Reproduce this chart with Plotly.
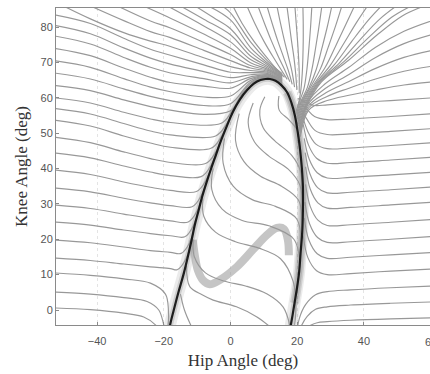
import plotly.graph_objects as go

# ---------------- data (deg) ----------------
# black closed orbit (hip, knee)
LC_X = [-18.7, -18.1, -17.0, -15.6, -14.1, -12.8, -11.6, -10.7, -9.6, -8.5, -7.2, -5.8, -4.3, -2.8, -1.1,
        0.7, 2.8, 5.0, 7.0, 9.0, 10.5, 11.8, 13.5, 15.3, 17.0, 18.3, 19.3, 20.2, 20.9, 21.4, 21.7, 21.7,
        21.5, 21.0, 20.6, 19.9, 19.2, 18.6, 18.1, 17.5]
LC_Y = [-8, -4.2, 0, 5, 10, 15, 20, 24, 28, 32, 36, 40, 44, 48, 52,
        56, 59.5, 62.2, 64, 65, 65.3, 65.3, 64.8, 63.5, 61.5, 58.5, 55, 50, 45, 40, 35, 28,
        22, 16, 11, 6, 2, -1.5, -4.2, -8]

# thick light-grey S band
BAND_X = [-11.3, -10.7, -9.8, -8.3, -6.2, -3.2, 1.9, 6.7, 10.9, 13.9, 16.0, 17.2, 17.5]
BAND_Y = [19.8, 15.5, 11.3, 8.5, 7.3, 8.5, 12.2, 17.0, 21.2, 23.2, 22.9, 19.8, 15.5]

# grey trajectories entering from the left edge
LEFT_FAMILY = [
    [(-53, 83.5), (-42, 81.0), (-32, 76.8), (-24, 73.7), (-18, 72.0), (-8, 69.3), (0, 67.2), (6, 67.1), (11, 66.9), (15.5, 64.9)],
    [(-53, 80.5), (-42, 78.1), (-32, 74.1), (-24, 71.2), (-18, 69.5), (-8, 67.4), (0, 65.7), (6, 66.5), (11, 66.6), (15.5, 64.7)],
    [(-53, 77.5), (-42, 75.2), (-32, 71.4), (-24, 68.6), (-18, 67.0), (-8, 65.4), (0, 64.2), (6, 65.9), (11, 66.4), (15.5, 64.5)],
    [(-53, 74.0), (-42, 71.9), (-32, 68.4), (-24, 65.8), (-18, 64.3), (-8, 63.3), (0, 62.7), (6, 65.4), (11, 66.2), (15.5, 64.3)],
    [(-53, 70.5), (-42, 68.6), (-32, 65.4), (-24, 63.0), (-18, 61.7), (-8, 60.2), (0, 60.5), (6, 64.9), (11, 66.0), (15.5, 64.1)],
    [(-53, 67.0), (-42, 65.3), (-32, 62.5), (-24, 60.4), (-18, 59.2), (-8, 57.8), (0, 58.3), (6, 64.4), (11, 65.8), (15.5, 63.9)],
    [(-53, 63.5), (-42, 62.0), (-32, 59.4), (-24, 57.5), (-18, 56.5), (-8, 55.3), (0, 56.3), (3, 60.5), (6, 64.0), (11, 65.6), (15.5, 63.7)],
    [(-53, 60.0), (-42, 58.5), (-32, 55.9), (-24, 54.0), (-18, 53.0), (-2.95, 52.7), (0.35, 56), (4.7, 62.3), (9, 65.3), (13, 65.4)],
    [(-53, 57.0), (-42, 55.4), (-32, 52.7), (-24, 50.6), (-18, 49.5), (-4.46, 49.2), (-1.23, 52.5), (2.05, 58.5)],
    [(-53, 53.7), (-42, 52.0), (-32, 49.2), (-24, 47.2), (-18, 46.0), (-5.85, 45.7), (-2.73, 49), (0.1, 55)],
    [(-53, 48.9), (-42, 47.3), (-32, 44.7), (-24, 42.8), (-18, 41.7), (-7.46, 41.4), (-4.39, 44.7), (-1.8, 50.7)],
    [(-53, 44.4), (-42, 43.0), (-32, 40.7), (-24, 39.0), (-18, 38.0), (-8.8, 37.7), (-5.78, 41), (-3.33, 47)],
    [(-53, 39.6), (-42, 38.3), (-32, 36.2), (-24, 34.7), (-18, 33.8), (-10.2, 33.5), (-7.27, 36.8), (-4.9, 42.8)],
    [(-53, 34.5), (-42, 33.4), (-32, 31.6), (-24, 30.3), (-18, 29.5), (-11.5, 29.2), (-8.69, 32.5), (-6.48, 38.5)],
    [(-53, 29.7), (-42, 28.7), (-32, 27.1), (-24, 25.9), (-18, 25.2), (-12.67, 24.9), (-9.9, 28.2), (-7.94, 34.2)],
    [(-53, 24.9), (-42, 24.0), (-32, 22.6), (-24, 21.6), (-18, 21.0), (-13.68, 20.7), (-11.05, 24), (-9.2, 30)],
    [(-53, 19.8), (-42, 19.0), (-32, 17.8), (-24, 16.8), (-18, 16.3), (-14.79, 16.0), (-12.12, 19.3), (-10.49, 25.3)],
    [(-53, 14.7), (-42, 14.0), (-32, 13.0), (-24, 12.2), (-18, 11.7), (-15.96, 11.4), (-13.23, 14.7), (-11.59, 20.7)],
    [(-53, 10.5), (-42, 9.8), (-32, 8.8), (-24, 7.6), (-19.5, 4.5), (-18.6, 0), (-18.7, -4.5)],
    [(-53, 5.1), (-42, 4.5), (-32, 3.5), (-25, 2.4), (-21.5, 0), (-20, -4.2), (-19.5, -6)],
    [(-53, 0.6), (-42, 0.1), (-32, -0.9), (-26, -2.0), (-22.5, -4.2), (-21, -6)],
]

# grey trajectories entering from the top edge
TOP_FAMILY = [
    [(-50.2, 86), (-42, 82.3), (-32, 78.4), (-24, 76.0), (-18, 74.5), (-8, 71.3), (0, 68.8), (6, 67.7), (11, 67.2), (15.5, 65.1)],
    [(-42.1, 86), (-32, 81.8), (-24, 78.7), (-18, 77.0), (-8, 73.4), (0, 70.5), (6, 68.4), (11, 67.5), (15.5, 65.3)],
    [(-34.0, 86), (-24, 81.7), (-18, 79.7), (-8, 75.6), (0, 72.2), (6, 69.1), (11, 67.8), (15.5, 65.5)],
    [(-26.2, 86), (-18, 82.5), (-8, 78.0), (0, 74.0), (6, 69.9), (11, 68.1), (15.5, 65.7)],
    [(-19.0, 86), (-8, 80.3), (0, 75.8), (6, 70.8), (11, 68.5), (15.5, 65.9)],
    [(-15.1, 86), (-8, 82.2), (0, 77.8), (6, 71.8), (11, 68.9), (15.5, 66.1)],
    [(-10.7, 86), (-5, 82.6), (0, 79.5), (6, 72.9), (11, 69.4), (15.5, 66.3)],
    [(-6.8, 86), (0, 82.0), (6, 74.2), (11, 69.9), (15.5, 66.5)],
    [(-2.6, 86), (0, 84.0), (6, 75.8), (11, 70.5), (15.5, 66.8)],
    [(0.7, 86), (3.5, 81), (7, 76), (10.8, 71.5), (13.6, 68.3), (16.2, 65.8)],
    [(4.9, 86), (7.3, 81), (10, 76), (12.8, 71.5), (15, 68.2), (17, 65.2)],
    [(8.2, 86), (10.2, 81), (12.3, 76), (14.4, 71.5), (16.2, 68), (17.8, 64.5)],
    [(10.9, 86), (12.5, 81), (14.2, 76), (15.9, 71.5), (17.3, 67.8), (18.5, 63.8)],
    [(13.9, 86), (15, 81), (16.2, 76), (17.4, 71.5), (18.4, 67.5), (19.2, 63)],
    [(16.9, 86), (17.6, 81), (18.3, 76), (19, 71.5), (19.5, 67.2), (19.9, 62.2)],
    [(19.3, 86), (19.7, 81), (20.1, 76), (20.4, 71.5), (20.6, 67), (20.6, 61.3)],
    [(21.7, 86), (21.8, 81), (21.8, 76), (21.7, 71.5), (21.5, 66.8), (21.0, 61.5), (20.2, 57.5)],
    [(24.4, 86), (24.0, 80), (23.5, 74), (22.9, 68), (22.0, 62.5), (20.6, 58.8), (19.6, 56.0)],
    [(27.4, 86), (26.5, 80), (25.5, 74), (24.4, 68), (23.0, 62.8), (20.9, 58.6), (19.75, 55.5)],
    [(30.4, 86), (29.0, 80), (27.4, 74), (25.7, 68), (23.6, 63.0), (21.1, 58.4), (19.9, 55.0)],
    [(33.4, 86), (31.5, 80.3), (29.3, 74.3), (27.0, 68.3), (24.1, 63.2), (21.3, 58.2), (20.0, 54.5)],
    [(37.2, 86), (34.6, 80.8), (31.6, 74.8), (28.4, 68.6), (24.7, 63.4), (21.5, 58.0), (20.1, 54.0)],
    [(41.1, 86), (37.8, 81.3), (34.0, 75.4), (29.8, 69.0), (25.2, 63.6), (21.7, 57.8), (20.17, 53.5)],
    [(45.3, 86), (41.2, 81.8), (36.4, 76.0), (31.2, 69.4), (25.7, 63.8), (21.9, 57.6), (20.26, 53.0)],
    [(49.8, 86), (44.8, 82.3), (39.0, 76.6), (32.6, 69.8), (26.2, 64.0), (22.1, 57.4), (20.35, 52.5)],
    [(54.3, 86), (48.4, 82.8), (41.6, 77.2), (34.0, 70.2), (26.7, 64.2), (22.3, 57.2), (20.44, 52.0)],
    [(58.2, 86), (51.6, 83.2), (44.0, 77.8), (35.4, 70.6), (27.2, 64.4), (22.5, 57.0), (20.53, 51.5)],
]

# grey trajectories entering from the right edge
RIGHT_FAMILY = [
    [(61, 82), (52, 78.8), (43.5, 74.3), (35.5, 68.6), (28.2, 63.8), (23.0, 58.6), (20.62, 51.0)],
    [(61, 78), (52, 75.3), (43.5, 71.4), (35.5, 66.6), (28.4, 62.6), (23.2, 58.1), (20.71, 50.5)],
    [(61, 73.5), (52, 71.4), (43.5, 68.3), (35.5, 64.6), (28.6, 61.4), (23.3, 57.6), (20.8, 50.0)],
    [(61, 69), (52, 67.5), (43.5, 65.3), (35.5, 62.7), (28.8, 60.3), (23.4, 57.1), (20.87, 49.5)],
    [(61, 64.5), (52, 63.6), (43.5, 62.2), (35.5, 60.7), (29, 59.2), (23.5, 56.6), (20.94, 49.0)],
    [(61, 60), (48, 59.2), (36, 58.5), (29, 58.0), (25.2, 57.8), (22.8, 58.6), (20.2, 59.8)],
    [(61, 55.5), (48, 54.7), (36, 54.0), (29, 53.8), (25.2, 54.7), (22.7, 57.0), (20.6, 58.6)],
    [(61, 51.3), (48, 50.5), (36, 49.8), (29, 49.6), (25.4, 50.7), (23.0, 53.8), (21.0, 57.2)],
    [(61, 47.3), (48, 46.5), (36, 45.8), (29, 45.6), (25.6, 46.9), (23.2, 50.4), (21.4, 55.5)],
    [(61, 43.2), (48, 42.4), (36, 41.7), (29, 41.5), (25.8, 42.9), (23.4, 46.6), (21.8, 52.5)],
    [(61, 39.0), (48, 38.2), (36, 37.5), (29, 37.3), (26, 38.8), (23.6, 42.6), (22.1, 48.5)],
    [(61, 34.8), (48, 34.0), (36, 33.3), (29, 33.1), (26.1, 34.6), (23.8, 38.5), (22.4, 44.5)],
    [(61, 30.5), (48, 29.7), (36, 29.0), (29, 28.8), (26.2, 30.3), (23.9, 34.2), (22.5, 40.5)],
    [(61, 25.6), (48, 24.8), (36, 24.1), (29, 23.9), (26.2, 25.4), (23.9, 29.3), (22.5, 35.5)],
    [(61, 20.8), (48, 20.0), (36, 19.3), (29, 19.1), (26.1, 20.5), (23.7, 24.4), (22.3, 30.5)],
    [(61, 16.3), (48, 15.6), (36, 14.9), (29, 14.6), (26, 15.9), (23.5, 19.8), (22.1, 26)],
    [(61, 11.6), (48, 11.0), (36, 10.3), (29, 10.0), (25.8, 11.1), (23.2, 14.8), (21.8, 21)],
    [(61, 6.8), (48, 6.3), (36, 5.7), (29, 5.2), (25.5, 4.3), (22.5, 1.5), (20.6, -2.5), (20.0, -6)],
    [(61, 2.3), (48, 1.9), (36, 1.4), (29, 0.9), (25.5, 0.2), (23, -1.8), (21.4, -4.2), (20.8, -6)],
    [(61, -2.2), (48, -2.5), (36, -2.9), (29, -3.3), (26, -3.6), (23.5, -4.6), (22, -6)],
]

# grey trajectories inside the orbit
INNER_FAMILY = [
    [(14.5, 60.5), (14.6, 56.5), (17.6, 53.7), (20.2, 50.5), (21.0, 45)],
    [(10.3, 60.3), (8.8, 56.5), (9.8, 51.5), (13.3, 47.8), (18.3, 43.8), (20.9, 39.5), (21.5, 33)],
    [(6.8, 58.5), (5.3, 53), (7.2, 47.5), (11.5, 43.5), (17.3, 39.8), (20.8, 35.3), (21.5, 28)],
    [(2.6, 55.5), (1.5, 48), (4.0, 42), (9.0, 37.8), (15.3, 35.0), (20.4, 31), (21.4, 23)],
    [(-1.8, 48.5), (-2.2, 41.5), (0.8, 35), (6.5, 31.2), (13.5, 29.3), (19.8, 25.8), (21.2, 18)],
    [(-5.2, 40), (-5.6, 34), (-2.5, 28.5), (3.5, 25.3), (11.5, 23.8), (19.0, 20), (20.9, 12)],
    [(-8.3, 31.5), (-8.0, 26.5), (-4.5, 22), (1.5, 19.3), (8.5, 17.5), (15, 14.5), (18.8, 8), (19.6, 0), (19.2, -4.2)],
    [(-11.2, 20), (-10.8, 15), (-7.5, 10.5), (-2, 8.2), (4.5, 6.8), (11, 4.5), (15.8, 0.8), (17.8, -4.5)],
    [(-13.2, 12.5), (-12.2, 6.6), (-8.5, 4.3), (-5.2, 2.8), (1.8, 0.9), (7.8, -1.9), (11.8, -4.7)],
    [(-15.0, 4.5), (-13.8, 0), (-11.8, -4.5)],
]

X_TICKS = [-40, -20, 0, 20, 40]
Y_TICKS = [0, 10, 20, 30, 40, 50, 60, 70, 80]
X_RANGE = [-52.3, 59.8]
Y_RANGE = [-4.24, 85.37]

GREY = "rgb(152,152,152)"

fig = go.Figure()


def add_line(xs, ys, color, width):
    fig.add_trace(go.Scatter(
        x=xs, y=ys, mode="lines",
        line=dict(color=color, width=width, shape="spline", smoothing=1.0),
        hoverinfo="skip", showlegend=False))


# halo around the orbit (where many trajectories pile up)
add_line(LC_X, LC_Y, "rgba(0,0,0,0.08)", 12)
add_line(LC_X, LC_Y, "rgba(0,0,0,0.12)", 6)
add_line(LC_X[24:37], LC_Y[24:37], "rgba(0,0,0,0.12)", 9)

# light band
add_line(BAND_X, BAND_Y, "rgba(150,150,150,0.55)", 8)

for fam in (LEFT_FAMILY, TOP_FAMILY, RIGHT_FAMILY, INNER_FAMILY):
    for pts in fam:
        add_line([p[0] for p in pts], [p[1] for p in pts], GREY, 1.15)

# the orbit itself
add_line(LC_X, LC_Y, "rgba(20,20,20,0.95)", 2.2)

axis_common = dict(
    showline=True, linecolor="#8a8a8a", linewidth=1, mirror=True,
    ticks="inside", ticklen=3, tickcolor="#8a8a8a",
    tickfont=dict(family="Liberation Sans", size=11, color="#555"),
    zeroline=False, automargin=False,
)

fig.update_layout(
    width=430, height=374,
    margin=dict(l=56, r=0, t=8, b=49),
    paper_bgcolor="white", plot_bgcolor="white",
    xaxis=dict(range=X_RANGE, tickvals=X_TICKS, ticklabelstandoff=6,
               showgrid=True, gridcolor="#e4e4e4", griddash="dot", gridwidth=1,
               title=dict(text="Hip Angle (deg)", standoff=7,
                          font=dict(family="Liberation Serif", size=17, color="#333")),
               **axis_common),
    yaxis=dict(range=Y_RANGE, tickvals=Y_TICKS, showgrid=False,
               title=dict(text="Knee Angle (deg)", standoff=8,
                          font=dict(family="Liberation Serif", size=17, color="#333")),
               **axis_common),
)

# partially visible "60" tick label at the cropped right edge
fig.add_annotation(x=(60 - X_RANGE[0]) / (X_RANGE[1] - X_RANGE[0]), y=0,
                   xref="paper", yref="paper", xanchor="center", yanchor="top", yshift=-9,
                   text="60", showarrow=False,
                   font=dict(family="Liberation Sans", size=11, color="#555"))

# the page's default 8px body margin would shift the figure; remove it
fig.write_html("out.html", config={"displayModeBar": False},
               post_script="document.body.style.margin='0';")
